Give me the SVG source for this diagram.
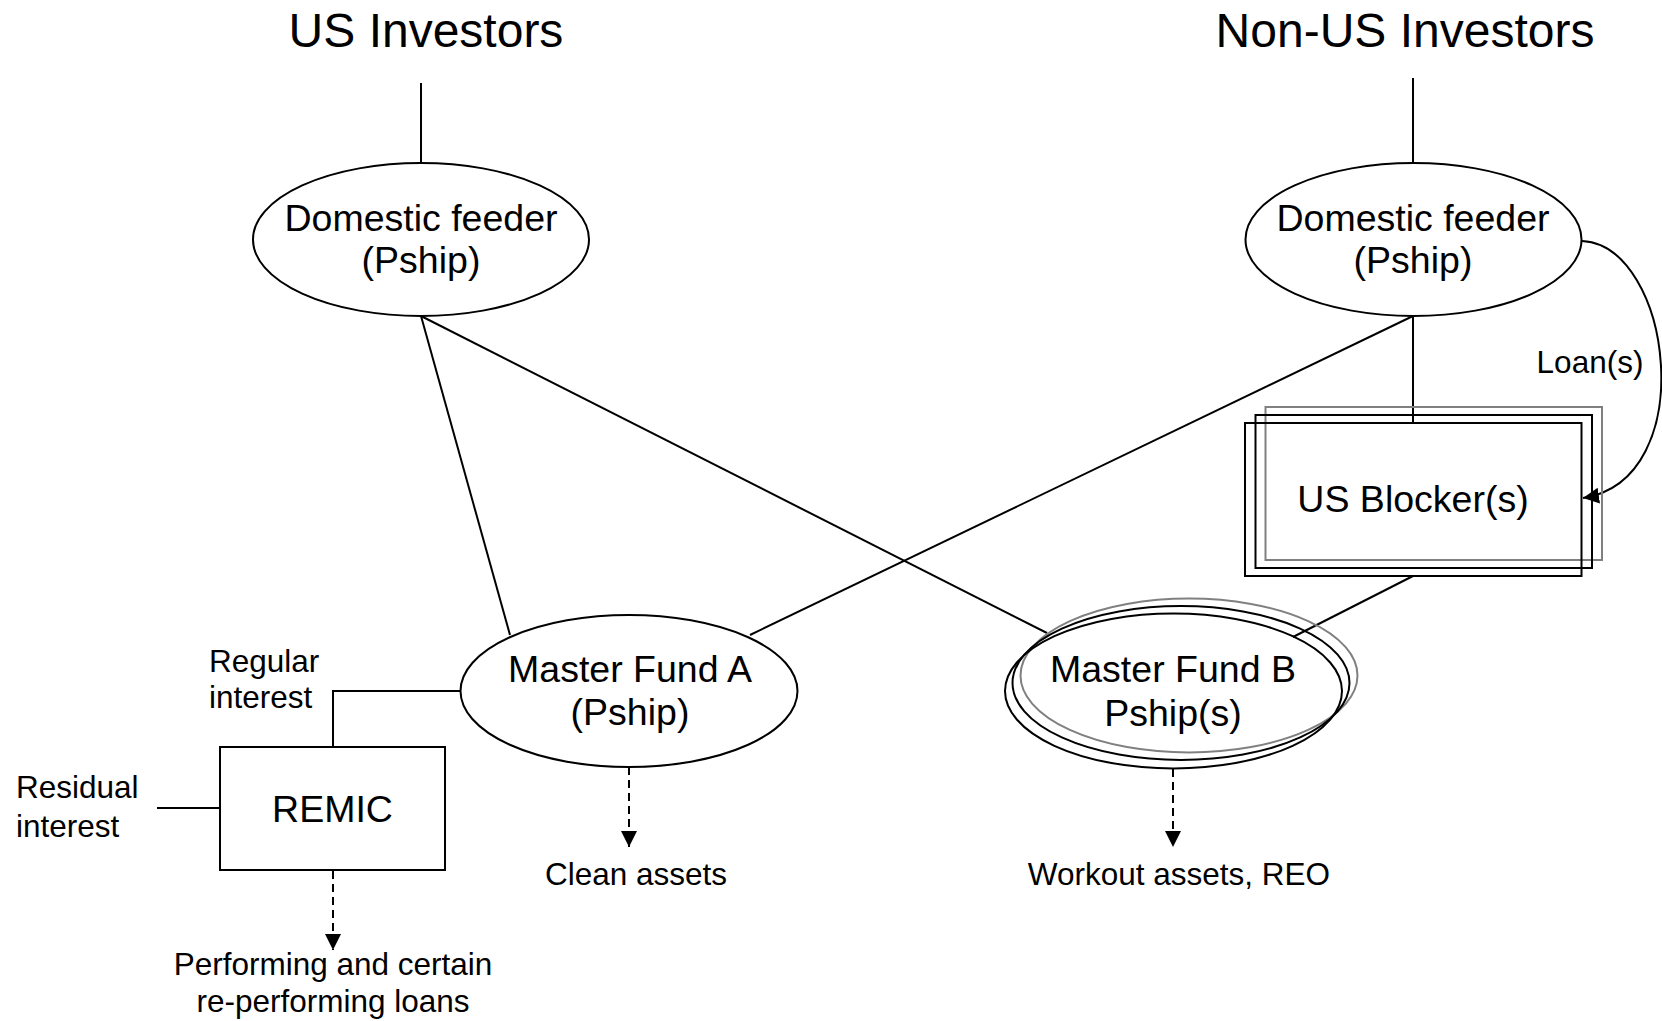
<svg xmlns="http://www.w3.org/2000/svg" width="1662" height="1021" viewBox="0 0 1662 1021">
  <style>
    text { font-family: "Liberation Sans", Arial, sans-serif; fill: #000; }
    .title { font-size: 48px; text-anchor: middle; }
    .node { font-size: 37.5px; text-anchor: middle; }
    .label { font-size: 31.5px; }
    .mid { text-anchor: middle; }
    .shape { fill: none; stroke: #000; stroke-width: 2; }
    .ghost { fill: none; stroke: #808080; stroke-width: 2; }
    .link { fill: none; stroke: #000; stroke-width: 2; }
    .dash { stroke-dasharray: 8 5; }
  </style>
  <defs>
    <marker id="arrow" markerUnits="userSpaceOnUse" markerWidth="18" markerHeight="18" refX="16" refY="8" orient="auto">
      <path d="M0,0 L16,8 L0,16 Z" fill="#000"/>
    </marker>
  </defs>

  <rect width="1662" height="1021" fill="#fff"/>

  <!-- connectors -->
  <g id="connectors">
    <line class="link" x1="421" y1="83" x2="421" y2="163"/>
    <line class="link" x1="1413" y1="78" x2="1413" y2="163"/>
    <line class="link" x1="421" y1="316" x2="510" y2="635"/>
    <line class="link" x1="421" y1="316" x2="1047" y2="633"/>
    <line class="link" x1="1413" y1="316" x2="750" y2="635"/>
    <line class="link" x1="1413" y1="316" x2="1413" y2="423"/>
    <line class="link" x1="1413" y1="576" x2="1293" y2="637"/>
    <polyline class="link" points="333,747 333,691 461,691"/>
    <line class="link" x1="157" y1="808" x2="220" y2="808"/>
    <path class="link" d="M1582,241 C1672,245 1702,480 1583,498" marker-end="url(#arrow)"/>
    <line class="link dash" x1="333" y1="871" x2="333" y2="950" marker-end="url(#arrow)"/>
    <line class="link dash" x1="629" y1="767" x2="629" y2="847" marker-end="url(#arrow)"/>
    <line class="link dash" x1="1173" y1="769" x2="1173" y2="847" marker-end="url(#arrow)"/>
  </g>

  <!-- investor headings -->
  <g id="us-investors">
    <text class="title" x="426" y="47">US Investors</text>
  </g>
  <g id="non-us-investors">
    <text class="title" x="1405" y="47">Non-US Investors</text>
  </g>

  <!-- feeders -->
  <g id="domestic-feeder-us">
    <ellipse class="shape" cx="421" cy="239.5" rx="168" ry="76.5"/>
    <text class="node" x="421" y="231">Domestic feeder</text>
    <text class="node" x="421" y="273">(Pship)</text>
  </g>
  <g id="domestic-feeder-non-us">
    <ellipse class="shape" cx="1413.5" cy="239.5" rx="168" ry="76.5"/>
    <text class="node" x="1413" y="231">Domestic feeder</text>
    <text class="node" x="1413" y="273">(Pship)</text>
  </g>

  <!-- blockers (stacked) -->
  <g id="us-blockers">
    <rect class="ghost" x="1265.5" y="407" width="336.5" height="153"/>
    <rect class="shape" x="1255.5" y="415" width="336.5" height="153"/>
    <rect class="shape" x="1245" y="423" width="336.5" height="153"/>
    <text class="node" x="1413" y="512">US Blocker(s)</text>
  </g>
  <g id="loans-label">
    <text class="label mid" x="1590" y="373">Loan(s)</text>
  </g>

  <!-- master funds -->
  <g id="master-fund-a">
    <ellipse class="shape" cx="629" cy="691" rx="168.5" ry="76"/>
    <text class="node" x="630" y="682">Master Fund A</text>
    <text class="node" x="630" y="725">(Pship)</text>
  </g>
  <g id="master-fund-b">
    <ellipse class="ghost" cx="1189" cy="675.5" rx="168.5" ry="77"/>
    <ellipse class="shape" cx="1181" cy="683" rx="168.5" ry="77"/>
    <ellipse class="shape" cx="1173.5" cy="691" rx="168.5" ry="77.5"/>
    <text class="node" x="1173" y="682">Master Fund B</text>
    <text class="node" x="1173" y="726">Pship(s)</text>
  </g>

  <!-- REMIC -->
  <g id="remic">
    <rect class="shape" x="220" y="747" width="225" height="123"/>
    <text class="node" x="332.5" y="822">REMIC</text>
  </g>
  <g id="regular-interest">
    <text class="label" x="209" y="672">Regular</text>
    <text class="label" x="209" y="708">interest</text>
  </g>
  <g id="residual-interest">
    <text class="label" x="16" y="798">Residual</text>
    <text class="label" x="16" y="837">interest</text>
  </g>

  <!-- asset outputs -->
  <g id="performing-loans">
    <text class="label mid" x="333" y="975">Performing and certain</text>
    <text class="label mid" x="333" y="1012">re-performing loans</text>
  </g>
  <g id="clean-assets">
    <text class="label mid" x="636" y="885">Clean assets</text>
  </g>
  <g id="workout-assets">
    <text class="label mid" x="1179" y="885">Workout assets, REO</text>
  </g>
</svg>
